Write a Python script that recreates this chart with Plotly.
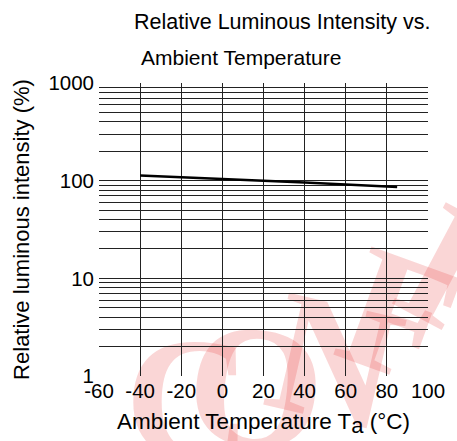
import plotly.graph_objects as go

temps = [-40, -20, 0, 20, 40, 60, 85]
intensity = [113, 108, 104, 100, 96, 92, 86]

x_ticks = [-60, -40, -20, 0, 20, 40, 60, 80, 100]
y_major = [1, 10, 100, 1000]
y_grid = [m * d for d in (1, 10, 100) for m in range(1, 10)] + [1000]
y_text = [str(v) if v in y_major else "" for v in y_grid]

watermark = ["C", "O", "N", "F", "I"]

FONT = "Liberation Sans, Arial, sans-serif"
L, R, T, B = 99, 21, 83, 65
PW, PH = 457 - L - R, 441 - T - B


def px(x):
    return (x - L) / PW


def py(y):
    return (441 - B - y) / PH


fig = go.Figure()
fig.add_trace(go.Scatter(x=temps, y=intensity, mode="lines",
                         line=dict(color="black", width=2.5), showlegend=False))

fig.update_layout(
    width=457, height=441,
    margin=dict(l=L, r=R, t=T, b=B),
    paper_bgcolor="white", plot_bgcolor="rgba(0,0,0,0)",
    font=dict(family=FONT, size=20, color="black"),
    xaxis=dict(range=[-60, 100], tickvals=x_ticks, ticktext=[str(v) for v in x_ticks],
               showgrid=True, gridcolor="#222", gridwidth=1, zeroline=False,
               showline=False, ticks="", tickfont=dict(size=20.5),
               title=dict(text='Ambient Temperature T<sub><span style="font-size:22px">a</span></sub> (°C)',
                          font=dict(size=22.5), standoff=12)),
    yaxis=dict(type="log", range=[0, 3], tickvals=y_grid, ticktext=y_text,
               showgrid=True, gridcolor="#222", gridwidth=1, zeroline=False,
               showline=False, ticks="", tickfont=dict(size=20.5), ticklabelstandoff=4,
               title=dict(text="Relative luminous intensity (%)", font=dict(size=22), standoff=12)),
)

# faint watermark behind the grid
wm_pos = [(190, 380, 0), (262, 368, 6), (345, 342, 13), (414, 298, 20), (462, 248, 28)]
for ch, (cx, cy, ang) in zip(watermark, wm_pos):
    fig.add_shape(type="rect", xref="paper", yref="paper",
                  x0=px(cx - 50), x1=px(cx + 50), y0=py(cy + 70), y1=py(cy - 70),
                  line=dict(width=0), fillcolor="rgba(0,0,0,0)", layer="below",
                  label=dict(text="<b>" + ch + "</b>", textangle=ang, textposition="middle center",
                             font=dict(family="Liberation Serif, serif", size=175,
                                       color="rgba(228,50,50,0.2)")))

fig.add_annotation(text="Relative Luminous Intensity vs.", xref="paper", yref="paper",
                   x=px(133), y=py(22), xanchor="left", yanchor="middle",
                   showarrow=False, font=dict(size=21.5))
fig.add_annotation(text="Ambient Temperature", xref="paper", yref="paper",
                   x=px(140), y=py(57), xanchor="left", yanchor="middle",
                   showarrow=False, font=dict(size=21))

fig.write_html("out.html")
